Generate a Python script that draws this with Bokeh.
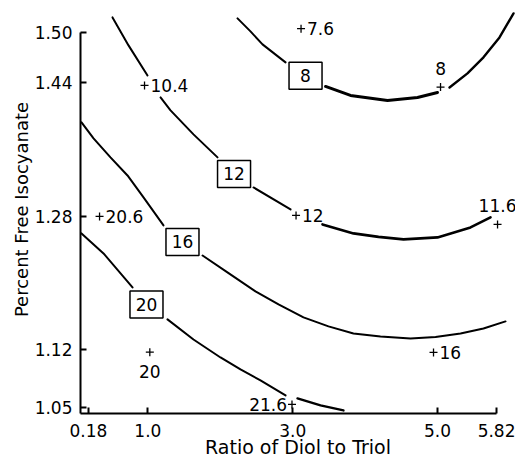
import numpy as np
from bokeh.plotting import figure
from bokeh.models import (FixedTicker, CustomJSTickFormatter, ColumnDataSource,
                          LinearAxis, Range1d)
from bokeh.core.properties import value
from bokeh.embed import file_html
from bokeh.resources import INLINE

FONT = "DejaVu Sans"

# ---------------- data ----------------
x_ticks = [0.18, 1.0, 3.0, 5.0, 5.82]
x_tick_labels = ["0.18", "1.0", "3.0", "5.0", "5.82"]
y_ticks = [1.05, 1.12, 1.28, 1.44, 1.50]
y_tick_labels = ["1.05", "1.12", "1.28", "1.44", "1.50"]

x_title = "Ratio of Diol to Triol"
y_title = "Percent Free Isocyanate"

# contour 8 (three pieces, broken at the box and at the "8" point)
c8_a_x = [2.238, 2.417, 2.583, 2.901]
c8_a_y = [1.5175, 1.5019, 1.4863, 1.4647]
c8_b_x = [3.453, 3.798, 4.309, 4.723, 4.999]
c8_b_y = [1.4358, 1.4250, 1.4190, 1.4226, 1.4286]
c8_c_x = [5.165, 5.413, 5.634, 5.855, 6.049]
c8_c_y = [1.4346, 1.4515, 1.4707, 1.4947, 1.5235]

# contour 12
c12_a_x = [0.512, 0.733, 0.995]
c12_a_y = [1.5187, 1.4851, 1.4490]
c12_b_x = [1.175, 1.313, 1.630, 1.962]
c12_b_y = [1.4226, 1.4070, 1.3782, 1.3506]
c12_c_x = [2.459, 2.970]
c12_c_y = [1.3145, 1.2881]
c12_d_x = [3.411, 3.839, 4.185, 4.530, 4.999, 5.455, 5.731]
c12_d_y = [1.2701, 1.2593, 1.2551, 1.2521, 1.2545, 1.2665, 1.2785]

# contour 16
c16_a_x = [0.084, 0.250, 0.484, 0.719, 0.940, 1.216]
c16_a_y = [1.3926, 1.3734, 1.3506, 1.3289, 1.3025, 1.2689]
c16_b_x = [1.755, 2.114, 2.486, 2.804, 3.149, 3.494, 3.839, 4.212, 4.626,
           4.972, 5.317, 5.634, 5.938]
c16_b_y = [1.2328, 1.2115, 1.1896, 1.1740, 1.1584, 1.1476, 1.1391, 1.1355,
           1.1331, 1.1349, 1.1391, 1.1451, 1.1536]

# contour 20
c20_a_x = [0.084, 0.388, 0.788]
c20_a_y = [1.2593, 1.2352, 1.1944]
c20_b_x = [1.271, 1.630, 2.003, 2.279, 2.555, 2.901]
c20_b_y = [1.1560, 1.1319, 1.1103, 1.0959, 1.0827, 1.0647]
c20_c_x = [3.066, 3.384, 3.701]
c20_c_y = [1.0611, 1.0527, 1.0467]

# contour level boxes
box_x = [3.177, 2.190, 1.478, 0.981]
box_y = [1.4485, 1.3307, 1.2491, 1.1740]
box_text = ["8", "12", "16", "20"]

# experimental points and their measured values
pt_x = [3.115, 5.041, 0.954, 0.333, 3.046, 5.828, 4.944, 1.027, 2.990]
pt_y = [1.5052, 1.4350, 1.4370, 1.2797, 1.2809, 1.2701, 1.1163, 1.1167, 1.0539]
pt_val = ["7.6", "8", "10.4", "20.6", "12", "11.6", "16", "20", "21.6"]
pt_pos = ["right", "above", "right", "right", "right", "above", "right", "below", "left"]

# ---------------- figure ----------------
p = figure(width=515, height=465,
           x_range=Range1d(0.07, 6.076), y_range=Range1d(1.043, 1.533),
           output_backend="svg", toolbar_location=None,
           min_border_left=80, min_border_right=0,
           min_border_top=5, min_border_bottom=52)
p.outline_line_color = None
p.grid.visible = False
p.background_fill_color = "white"
p.border_fill_color = "white"

fmt_code = """
for (let i = 0; i < tvals.length; i++) {
  if (Math.abs(tvals[i] - tick) < 1e-6) { return tlabels[i]; }
}
return '';
"""
p.xaxis.ticker = FixedTicker(ticks=x_ticks)
p.xaxis.formatter = CustomJSTickFormatter(args=dict(tvals=x_ticks, tlabels=x_tick_labels), code=fmt_code)
p.yaxis.ticker = FixedTicker(ticks=y_ticks)
p.yaxis.formatter = CustomJSTickFormatter(args=dict(tvals=y_ticks, tlabels=y_tick_labels), code=fmt_code)
p.xaxis.bounds = (0.07, 5.82)
p.yaxis.bounds = (1.043, 1.50)

for ax in (p.xaxis[0], p.yaxis[0]):
    ax.axis_line_width = 2
    ax.axis_line_color = "black"
    ax.major_tick_line_width = 2
    ax.major_tick_line_color = "black"
    ax.major_tick_in = 6
    ax.major_tick_out = 0
    ax.minor_tick_line_color = None
    ax.major_label_text_font = FONT
    ax.major_label_text_font_size = "17px"
    ax.major_label_text_color = "black"
p.yaxis[0].major_label_standoff = 8
p.xaxis[0].major_label_standoff = 10

# title-only axes (placed outside the tick axes, centred where the titles sit)
def title_axis(text, bounds, size, standoff):
    return LinearAxis(ticker=FixedTicker(ticks=[]), bounds=bounds,
                      axis_line_color=None, major_tick_line_color=None,
                      minor_tick_line_color=None, major_tick_in=0, major_tick_out=0,
                      minor_tick_in=0, minor_tick_out=0, major_label_standoff=0,
                      axis_label=text, axis_label_text_font=FONT,
                      axis_label_text_font_size=size,
                      axis_label_text_font_style="normal",
                      axis_label_text_color="black",
                      axis_label_standoff=standoff)

p.add_layout(title_axis(y_title, (1.25, 1.35), "18px", 0), "left")
p.add_layout(title_axis(x_title, (3.0, 3.492), "19px", -4), "below")

# contour lines
xs = [c8_a_x, c8_b_x, c8_c_x, c12_a_x, c12_b_x, c12_c_x, c12_d_x,
      c16_a_x, c16_b_x, c20_a_x, c20_b_x, c20_c_x]
ys = [c8_a_y, c8_b_y, c8_c_y, c12_a_y, c12_b_y, c12_c_y, c12_d_y,
      c16_a_y, c16_b_y, c20_a_y, c20_b_y, c20_c_y]
widths = [2, 3, 2.4, 2, 2, 2, 2.6, 2, 2, 2, 2, 2.4]
p.multi_line(xs=xs, ys=ys, line_width=widths, line_color="black",
             line_join="round", line_cap="round")

# level boxes
p.rect(x=box_x, y=box_y, width=33, height=27, width_units="screen",
       height_units="screen", fill_color="white", line_color="black", line_width=1.5)
p.text(x=box_x, y=box_y, text=box_text, text_align="center", text_baseline="middle",
       text_font=value(FONT), text_font_size="17px", text_color="black")

# points
p.scatter(x=pt_x, y=pt_y, marker="cross", size=8, line_width=1.3, color="black")

offsets = {"right": (6, 0, "left"), "left": (-5, 0, "right"),
           "above": (0, -19, "center"), "below": (0, 19, "center")}
for pos, (dx, dy, align) in offsets.items():
    idx = [i for i, q in enumerate(pt_pos) if q == pos]
    src = ColumnDataSource(dict(x=[pt_x[i] for i in idx], y=[pt_y[i] for i in idx],
                                t=[pt_val[i] for i in idx]))
    p.text(x="x", y="y", text="t", source=src, x_offset=dx, y_offset=dy,
           text_align=align, text_baseline="middle",
           text_font=value(FONT), text_font_size="17px", text_color="black")

open("out.html", "w").write(file_html(p, INLINE))
